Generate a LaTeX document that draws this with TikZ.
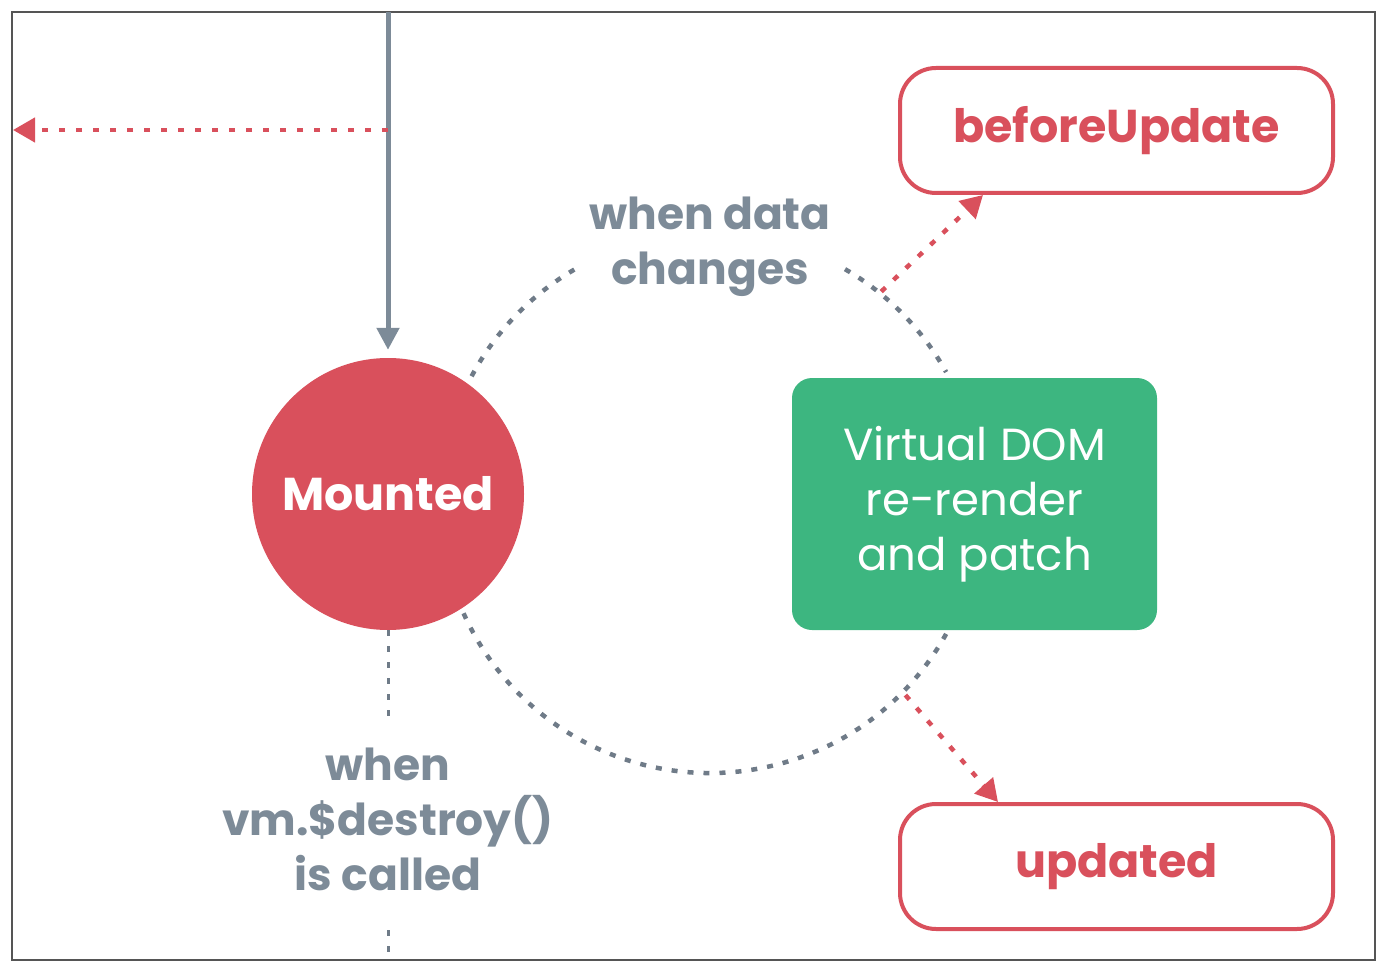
\documentclass[tikz,border=0pt]{standalone}
\usepackage{fontspec}
\setmainfont{Poppins}
\usetikzlibrary{arrows.meta,calc}
\definecolor{vred}{HTML}{D9505C}
\definecolor{vgreen}{HTML}{3DB680}
\definecolor{slate}{HTML}{7D8B98}
\definecolor{dotgray}{HTML}{6F7B88}
\definecolor{frame}{HTML}{555555}
\tikzset{
  hookbox/.style={draw=vred, line width=4pt, rounded corners=36pt, minimum width=433pt, minimum height=125pt, text=vred, font=\fontsize{46}{50}\selectfont\bfseries, fill=white},
  graydot/.style={draw=dotgray, line width=4.5pt, dash pattern=on 6pt off 10pt},
  reddot/.style={draw=vred, line width=4.5pt, dash pattern=on 6pt off 11pt},
  redtip/.style={-{Triangle[length=22pt,width=24pt]}},
  lbl/.style={text=slate, align=center, font=\fontsize{44}{55}\selectfont\bfseries},
}
\begin{document}
\begin{tikzpicture}[x=1pt,y=-1pt]
\useasboundingbox (0,0) rectangle (1387,976);
\draw[frame, line width=2pt] (12,12) rectangle (1375,960);
\coordinate (c) at (710,503);
% cycle arcs
\draw[graydot] (c) ++(-152:270) arc[start angle=-152, end angle=-120, radius=270];
\draw[graydot] (c) ++(-60:270) arc[start angle=-60, end angle=-29, radius=270];
\draw[graydot] (c) ++(29:270) arc[start angle=29, end angle=156, radius=270];
% nodes
\node[circle, fill=vred, minimum size=272pt, inner sep=0pt, text=white, font=\fontsize{46}{48}\selectfont\bfseries] (mounted) at (388,494) {Mounted};
\node[fill=vgreen, rounded corners=20pt, minimum width=365pt, minimum height=252pt, text=white, align=center, font=\fontsize{45}{55}\selectfont] (vdom) at (974.5,504) {Virtual DOM\\re-render\\and patch};
\node[hookbox] (bu) at (1116.5,130.5) {beforeUpdate};
\node[hookbox] (up) at (1116.5,866.5) {updated};
\node[lbl] (wdc) at (710,247) {when data\\changes};
\node[lbl] (wdes) at (388,819) {when\\vm.\$destroy()\\is called};
% top arrow
\coordinate (top) at (388,12);
\coordinate (split) at (388,130);
\coordinate (left) at (13,130);
\draw[slate, line width=5pt, -{Triangle[length=22pt,width=22pt]}, shorten >=8pt] (top) -- (mounted.north);
\draw[reddot, redtip] (split) -- (left);
% hooks arrows
\coordinate (a1) at ($(c)+(-51:272)$);
\coordinate (a2) at ($(c)+(44.5:274)$);
\draw[reddot, redtip] (a1) -- ($(bu.south west)+(85,0)$);
\draw[reddot, redtip] (a2) -- ($(up.north west)+(100,0)$);
% destroy line
\coordinate (bot) at (388,960);
\draw[graydot, line width=3pt] (mounted.south) -- (388,716);
\draw[graydot, line width=3pt] (388,930) -- (bot);
\end{tikzpicture}
\end{document}
